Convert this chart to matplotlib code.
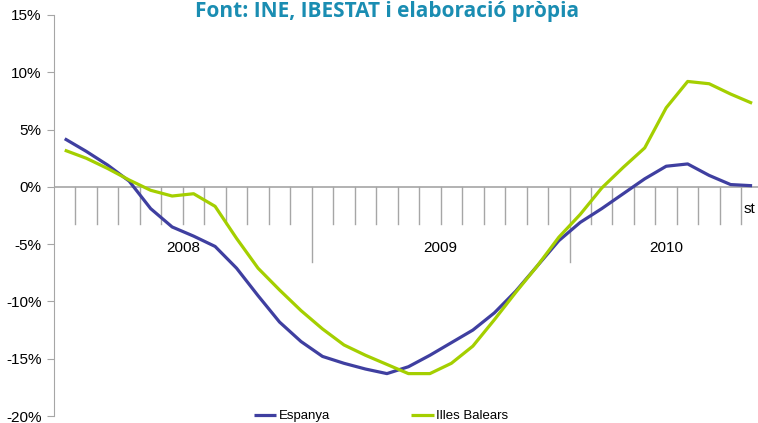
import matplotlib
matplotlib.use("Agg")
import matplotlib.pyplot as plt

# monthly series, Jan 2008 - Sep 2010 (%)
espanya = [4.2, 3.1, 1.9, 0.5, -1.9, -3.5, -4.3, -5.2, -7.1, -9.5, -11.8, -13.5,
           -14.8, -15.4, -15.9, -16.3, -15.7, -14.7, -13.6, -12.5, -11.0, -9.1, -6.9, -4.7,
           -3.1, -1.9, -0.6, 0.7, 1.8, 2.0, 1.0, 0.2, 0.1]
illes_balears = [3.2, 2.5, 1.6, 0.6, -0.3, -0.8, -0.6, -1.7, -4.5, -7.1, -9.0, -10.8,
                 -12.4, -13.8, -14.7, -15.5, -16.3, -16.3, -15.4, -13.9, -11.6, -9.2, -6.9, -4.4,
                 -2.4, -0.1, 1.7, 3.4, 6.9, 9.2, 9.0, 8.1, 7.3]
years = ["2008", "2009", "2010"]
months_per_year = [12, 12, 9]
yticks = [15, 10, 5, 0, -5, -10, -15, -20]

blue = "#3f3fa0"
green = "#a4cf00"
grey = "#a6a6a6"

plt.rcParams["font.family"] = ["Liberation Sans", "DejaVu Sans"]

fig = plt.figure(figsize=(7.58, 4.23), dpi=100)
W, H = 758, 423
step = 21.48
n = len(espanya)
ax = fig.add_axes([54 / W, 7 / H, n * step / W, 401 / H])

x = list(range(n))
ax.plot(x, espanya, color=blue, lw=2.3, label="Espanya", solid_capstyle="butt")
ax.plot(x, illes_balears, color=green, lw=2.3, label="Illes Balears", solid_capstyle="butt")

ax.set_xlim(-0.5, n - 0.5)
ax.set_ylim(-20, 15)
ax.set_yticks(yticks)
ax.set_yticklabels([f"{v}%" for v in yticks], fontsize=11)
ax.set_xticks([])

for s in ["top", "right", "bottom"]:
    ax.spines[s].set_visible(False)
ax.spines["left"].set_color(grey)
ax.tick_params(axis="y", colors=grey, length=5, labelcolor="black", pad=4)
ax.axhline(0, color=grey, lw=1.2, zorder=1)

# category boundary ticks hanging below the zero line
year_edges = []
acc = 0
for m in months_per_year[:-1]:
    acc += m
    year_edges.append(acc)
for k in range(1, n):
    depth = -6.6 if k in year_edges else -3.2
    ax.plot([k - 0.5, k - 0.5], [0, depth], color=grey, lw=1.0, zorder=1)

# year labels
start = 0
for yr, m in zip(years, months_per_year):
    ax.text(start + m / 2 - 0.5, -5.3, yr, ha="center", va="center", fontsize=11)
    start += m
ax.text(31.6, -1.9, "st", ha="left", va="center", fontsize=11, clip_on=False)

fig.text(387 / W, 1 - 11 / H, "Font: INE, IBESTAT i elaboració pròpia",
         ha="center", va="center", fontsize=15, fontweight="bold",
         color="#1a8db2", family="Open Sans")

fig.legend(loc="center left", bbox_to_anchor=(254 / W, 7 / H), ncol=2, frameon=False,
           fontsize=9.5, handlelength=1.7, handletextpad=0.15, columnspacing=6.2,
           borderpad=0, borderaxespad=0)

fig.savefig("out.png", dpi=100)
